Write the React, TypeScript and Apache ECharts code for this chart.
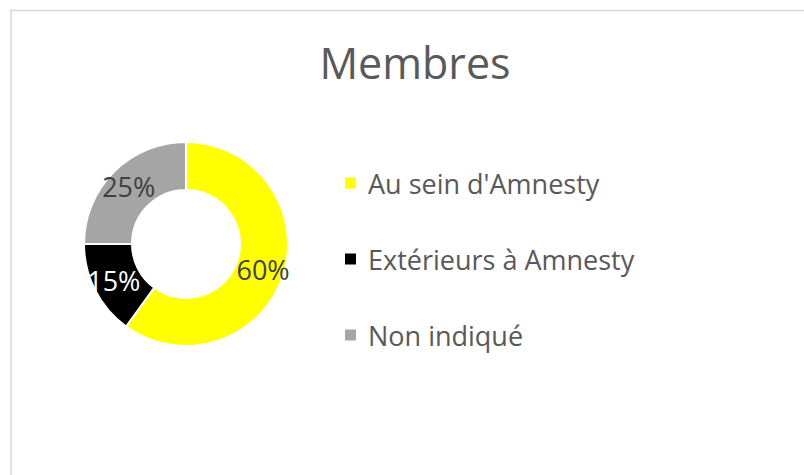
import React, { useEffect, useRef } from "react";
import * as echarts from "echarts";

const categories = ["Au sein d'Amnesty", "Extérieurs à Amnesty", "Non indiqué"];
const values = [60, 15, 25];
const colors = ["#FFFF00", "#000000", "#A5A5A5"];
const labelColors = ["#404040", "#FFFFFF", "#404040"];
const title = "Membres";

const FONT = "'Open Sans', 'Noto Sans', sans-serif";

export default function App() {
  const ref = useRef<HTMLDivElement>(null);
  useEffect(() => {
    if (!ref.current) return;
    const chart = echarts.init(ref.current, null, { renderer: "svg" });
    chart.setOption({
      animation: false,
      backgroundColor: "#FFFFFF",
      title: {
        text: title,
        left: 410,
        top: 36,
        textAlign: "center",
        textStyle: { fontFamily: FONT, fontSize: 43, fontWeight: "normal", color: "#595959" },
      },
      graphic: [
        {
          type: "rect",
          shape: { x: 11, y: 10.5, width: 900, height: 600 },
          style: { fill: "none", stroke: "#D9D9D9", lineWidth: 1.5 },
          silent: true,
        },
      ],
      legend: {
        orient: "vertical",
        left: 343,
        top: 168,
        padding: 0,
        icon: "rect",
        itemWidth: 13,
        itemHeight: 13,
        itemGap: 46,
        selectedMode: false,
        data: categories,
        textStyle: {
          fontFamily: FONT,
          fontSize: 27,
          color: "#595959",
          lineHeight: 30,
          padding: [0, 0, 0, 6],
        },
      },
      series: [
        {
          type: "pie",
          center: [186, 244],
          radius: [54, 102],
          startAngle: 90,
          clockwise: true,
          avoidLabelOverlap: false,
          itemStyle: { borderColor: "#FFFFFF", borderWidth: 2 },
          label: {
            show: true,
            position: "inside",
            formatter: "{d}%",
            fontFamily: FONT,
            fontSize: 27,
          },
          labelLine: { show: false },
          emphasis: { disabled: true },
          data: categories.map((name, i) => ({
            name,
            value: values[i],
            itemStyle: { color: colors[i] },
            label: { color: labelColors[i] },
          })),
        },
      ],
    });
    return () => chart.dispose();
  }, []);
  return (
    <div
      ref={ref}
      style={{ position: "absolute", left: 0, top: 0, width: 804, height: 475 }}
    />
  );
}
